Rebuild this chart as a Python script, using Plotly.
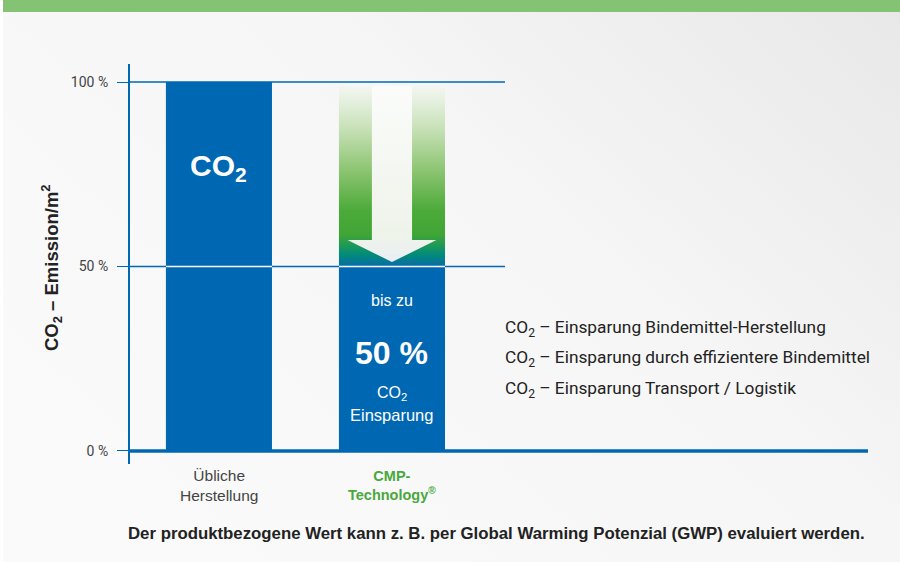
import base64
import plotly.graph_objects as go

# ---------------- data ----------------
categories = ["Übliche<br>Herstellung", "CMP-<br>Technology<sup>®</sup>"]
emission_pct = [100, 50]
saving_pct = 50
tick_values = [0, 50, 100]
tick_labels = ["0 %", "50 %", "100 %"]
saving_items = [
    "CO<sub>2</sub> – Einsparung Bindemittel-Herstellung",
    "CO<sub>2</sub> – Einsparung durch effizientere Bindemittel",
    "CO<sub>2</sub> – Einsparung Transport / Logistik",
]
bar1_label = "CO<sub>2</sub>"
bar2_labels = ["bis zu", f"{saving_pct} %", "CO<sub>2</sub>", "Einsparung"]
y_title = "CO<sub>2</sub> – Emission/m<sup>2</sup>"
footnote = "Der produktbezogene Wert kann z. B. per Global Warming Potenzial (GWP) evaluiert werden."

# ---------------- style / geometry ----------------
W, H = 900, 562
BLUE = "#0068b3"
GREEN_TXT = "#4aa83c"
BAND = "#84c274"
DARK = "#222222"
GREY = "#444444"
NARROW = "Roboto, Liberation Sans, sans-serif"
SANS = "Liberation Sans, Arial, sans-serif"

BAR_W = 0.613
X_RANGE = [-0.514, 3.751]
Y_RANGE = [-3.5, 105]
X_DOM = [130 / W, 868 / W]
Y_DOM = [1 - 463.9 / H, 1 - 63.55 / H]
GRID_END = 1.653
TICK_LEFT = X_RANGE[0] - 11 / 173
xpos = list(range(len(categories)))

fig = go.Figure()

# bars
fig.add_trace(go.Bar(
    x=xpos, y=emission_pct, width=BAR_W,
    marker=dict(color=BLUE, line=dict(width=0)),
    hoverinfo="skip", showlegend=False,
))

# green gradient arrow field above the CMP bar
c = xpos[1]
hw = BAR_W / 2
low = emission_pct[1]
top = emission_pct[0] * 0.989
fig.add_trace(go.Scatter(
    x=[c - hw, c + hw, c + hw, c - hw, c - hw],
    y=[low, low, top, top, low],
    mode="lines", line=dict(width=0, color="rgba(0,0,0,0)"),
    fill="toself",
    fillgradient=dict(
        type="vertical", start=low, stop=top,
        colorscale=[
            [0.0, "#0a6aa8"],
            [0.06, "#00897e"],
            [0.12, "#1f9a55"],
            [0.175, "#40a535"],
            [0.31, "#4caa3a"],
            [0.53, "#8cc471"],
            [0.755, "#c5e0b4"],
            [0.92, "#e6f0e0"],
            [1.0, "#f3f6f1"],
        ],
    ),
    hoverinfo="skip", showlegend=False,
))

# white arrow
shaft = 0.116
head = 0.257
head_y = low + 7.2
tip_y = low + 1.2
fig.add_trace(go.Scatter(
    x=[c - shaft, c + shaft, c + shaft, c + head, c, c - head, c - shaft, c - shaft],
    y=[top, top, head_y, head_y, tip_y, head_y, head_y, top],
    mode="lines", line=dict(width=0, color="rgba(0,0,0,0)"),
    fill="toself",
    fillgradient=dict(
        type="vertical", start=tip_y, stop=top,
        colorscale=[[0, "#e9eef5"], [0.15, "#eef3ea"], [1, "#fbfcfa"]],
    ),
    hoverinfo="skip", showlegend=False,
))

shapes = []
# gridlines (blue, behind bars)
for v in tick_values[1:]:
    shapes.append(dict(type="line", xref="x", yref="y", x0=X_RANGE[0], x1=GRID_END,
                       y0=v, y1=v, line=dict(color=BLUE, width=1.3), layer="below"))
# white grid segments over the bars
for i, v in enumerate(emission_pct):
    shapes.append(dict(type="line", xref="x", yref="y", x0=xpos[i] - hw, x1=xpos[i] + hw,
                       y0=tick_values[1], y1=tick_values[1],
                       line=dict(color="#ffffff", width=1.3), layer="above"))
# thick baseline
shapes.append(dict(type="line", xref="x", yref="y", x0=TICK_LEFT, x1=X_RANGE[1],
                   y0=0, y1=0, line=dict(color=BLUE, width=3.5), layer="above"))
# top green band
shapes.append(dict(type="rect", xref="paper", yref="paper", x0=3 / W, x1=1,
                   y0=1 - 12 / H, y1=1.01, fillcolor=BAND, line=dict(width=0), layer="above"))


def py(px):
    """pixel row -> paper y"""
    return 1 - px / H


def px_x(px):
    """pixel column -> paper x"""
    return px / W


annotations = []
# text inside bar 1
annotations.append(dict(x=xpos[0], y=76.7, xref="x", yref="y", text=f"<b>{bar1_label}</b>",
                        showarrow=False, font=dict(family=SANS, size=30, color="white")))
# texts inside bar 2
b2_y = [40.7, 26.6, 15.6, 9.8]
b2_size = [16, 32, 16, 16.5]
for t, yy, sz in zip(bar2_labels, b2_y, b2_size):
    txt = f"<b>{t}</b>" if sz > 20 else t
    annotations.append(dict(x=xpos[1], y=yy, xref="x", yref="y", text=txt, showarrow=False,
                            font=dict(family=SANS, size=sz, color="white")))
# savings list
for t, yy in zip(saving_items, [33.3, 25.2, 16.8]):
    annotations.append(dict(x=1.642, y=yy, xref="x", yref="y", text=t, showarrow=False,
                            xanchor="left", yanchor="middle",
                            font=dict(family=NARROW, size=17.3, color=DARK)))
# category labels
annotations.append(dict(x=px_x(219), y=py(485), xref="paper", yref="paper", text=categories[0],
                        xanchor="center", yanchor="middle",
                        showarrow=False, font=dict(family=SANS, size=15.5, color=GREY)))
annotations.append(dict(x=px_x(392), y=py(485), xref="paper", yref="paper",
                        text=f"<b>{categories[1]}</b>", xanchor="center", yanchor="middle",
                        showarrow=False, font=dict(family=SANS, size=14.5, color=GREEN_TXT)))
# y title
annotations.append(dict(x=px_x(51), y=py(268), xref="paper", yref="paper", text=f"<b>{y_title}</b>",
                        xanchor="center", yanchor="middle",
                        textangle=-90, showarrow=False, font=dict(family=SANS, size=18.5, color=DARK)))
# footnote
annotations.append(dict(x=px_x(497), y=py(533), xref="paper", yref="paper", text=f"<b>{footnote}</b>",
                        xanchor="center", yanchor="middle",
                        showarrow=False, font=dict(family=SANS, size=16.8, color=DARK)))

# subtle background gradient
svg = ('<svg xmlns="http://www.w3.org/2000/svg" width="100" height="100" preserveAspectRatio="none">'
       '<defs><linearGradient id="g" x1="0" y1="0.7" x2="1" y2="0">'
       '<stop offset="0" stop-color="#fafafa"/><stop offset="0.55" stop-color="#f6f6f6"/>'
       '<stop offset="1" stop-color="#e8e8e8"/></linearGradient></defs>'
       '<rect width="100" height="100" fill="url(#g)"/></svg>')
bg_src = "data:image/svg+xml;base64," + base64.b64encode(svg.encode()).decode()

fig.update_layout(
    width=W, height=H,
    margin=dict(l=0, r=0, t=0, b=0, pad=0),
    paper_bgcolor="#ffffff",
    plot_bgcolor="rgba(0,0,0,0)",
    showlegend=False,
    hovermode=False,
    shapes=shapes,
    annotations=annotations,
    images=[dict(source=bg_src, xref="paper", yref="paper", x=3 / W, y=1,
                 sizex=1 - 3 / W, sizey=1, xanchor="left", yanchor="top",
                 sizing="stretch", layer="below")],
    xaxis=dict(domain=X_DOM, range=X_RANGE, visible=False, fixedrange=True),
    yaxis=dict(
        domain=Y_DOM, range=Y_RANGE, showgrid=False, zeroline=False,
        showline=True, linecolor=BLUE, linewidth=2,
        ticks="outside", ticklen=11, tickwidth=1.3, tickcolor=BLUE,
        tickvals=tick_values, ticktext=tick_labels,
        tickfont=dict(family=NARROW, size=14, color=GREY),
        ticklabelstandoff=6, fixedrange=True,
    ),
)

fig.write_html(
    "out.html",
    config={"displayModeBar": False},
    post_script="document.body.style.margin='0';document.body.style.overflow='hidden';",
)
